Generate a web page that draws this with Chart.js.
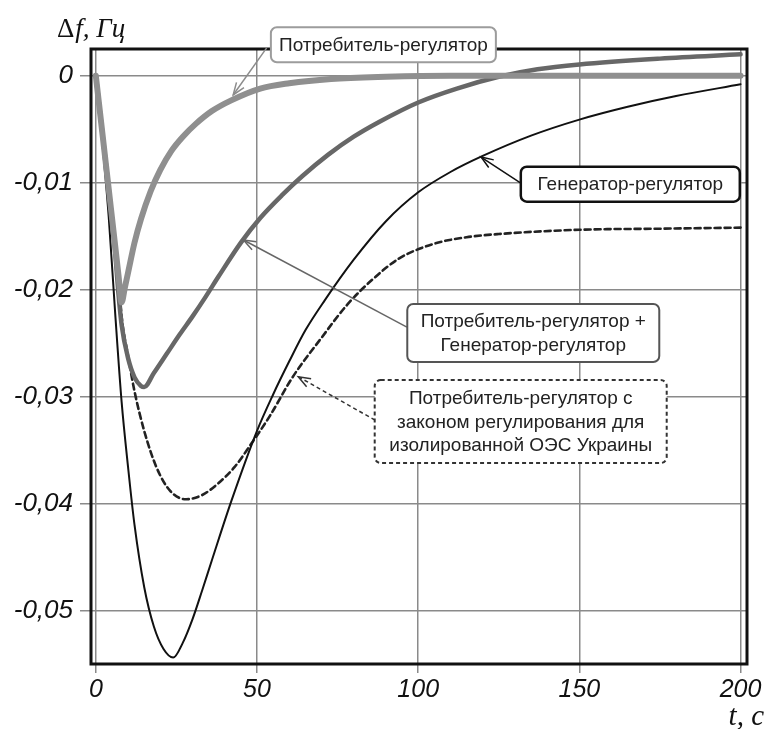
<!DOCTYPE html>
<html>
<head>
<meta charset="utf-8">
<script src="https://cdn.jsdelivr.net/npm/chart.js@4.4.1/dist/chart.umd.min.js"></script>
<style>
  html, body { margin: 0; padding: 0; background: #fff; }
  canvas { display: block; }
</style>
</head>
<body>
<canvas id="chart" width="768" height="729"></canvas>
<script>
// --- Data (t in s, Δf in Hz) ----------------------------------------------
const consumerT = [0, 2, 4, 6, 7, 8, 9, 10, 12, 14, 17, 20, 23.5, 27, 31, 36, 42, 51, 60, 73, 90, 110, 150, 200];
const consumerV = [0, -0.0053, -0.0106, -0.0159, -0.0186, -0.0212, -0.0198, -0.0184, -0.0156, -0.0134, -0.0108, -0.0088,
  -0.0070, -0.0057, -0.0045, -0.0033, -0.0023, -0.0012, -0.0007, -0.0003, -0.0001, 0, 0, 0];

const bothT = [0, 2, 4, 6, 7, 8, 10, 12, 14, 15, 18, 22, 26, 30, 34, 38, 45, 51, 58, 64, 72, 80, 88, 100, 112, 125, 137, 150, 175, 200];
const bothV = [0, -0.0053, -0.0106, -0.0165, -0.0203, -0.0233, -0.0264, -0.0282, -0.0290, -0.0291, -0.0278, -0.0260, -0.0242,
  -0.0225, -0.0207, -0.0188, -0.0156, -0.0133, -0.0111, -0.0094, -0.0074, -0.0057, -0.0043, -0.0025, -0.0012, -0.0001,
  0.0006, 0.00105, 0.0016, 0.0020];

const genT = [0, 2, 4, 6, 8, 10, 12, 15, 18, 21, 24, 27, 30, 33, 36, 42, 50, 55, 60, 65, 71, 80, 90, 100, 110, 120, 135, 150,
  165, 180, 200];
const genV = [0, -0.0062, -0.0132, -0.0222, -0.0305, -0.0366, -0.0420, -0.0478, -0.0515, -0.0536, -0.0544, -0.0530, -0.0508,
  -0.0481, -0.0453, -0.0398, -0.0332, -0.0298, -0.0267, -0.0238, -0.0210, -0.0172, -0.0136, -0.0109, -0.0090, -0.0075,
  -0.0056, -0.0041, -0.0029, -0.0019, -0.0008];

const isolatedT = [0, 2, 4, 6, 7, 8, 10, 12, 15, 18.8, 23, 28, 33, 38, 43, 48, 54, 61, 70, 78, 86, 94, 105, 115, 125, 150, 175, 200];
const isolatedV = [0, -0.0053, -0.0106, -0.0159, -0.0186, -0.0225, -0.0262, -0.0295, -0.0332, -0.0366, -0.0388, -0.0396,
  -0.0392, -0.0381, -0.0366, -0.0345, -0.0318, -0.0282, -0.0245, -0.0214, -0.0190, -0.0171, -0.0157, -0.0151, -0.0148,
  -0.0144, -0.0143, -0.0142];

const xTickValues = [0, 50, 100, 150, 200];
const xTickLabels = ["0", "50", "100", "150", "200"];
const yTickValues = [0, -0.01, -0.02, -0.03, -0.04, -0.05];
const yTickLabels = ["0", "-0,01", "-0,02", "-0,03", "-0,04", "-0,05"];

const yTitleSymbol = "Δ";
const yTitle = "f, Гц";
const xTitle = "t, c";

// callout boxes: centre / arrow ends in data units, size in px
const callouts = [
  { lines: ["Потребитель-регулятор"], at: [89.2, 0.0029], size: [225, 35], from: [53.0, 0.0026], tip: [42.6, -0.0018],
    border: "#9c9c9c", borderWidth: 2, boxDash: [], arrow: "#8c8c8c", arrowDash: [] },
  { lines: ["Генератор-регулятор"], at: [165.8, -0.01014], size: [219, 35], from: [131.6, -0.0100], tip: [119.5, -0.0076],
    border: "#111", borderWidth: 2.5, boxDash: [], arrow: "#111", arrowDash: [] },
  { lines: ["Потребитель-регулятор +", "Генератор-регулятор"], at: [135.7, -0.02405], size: [252, 58], from: [96.5, -0.0235],
    tip: [45.8, -0.01536], border: "#555", borderWidth: 2, boxDash: [], arrow: "#666", arrowDash: [] },
  { lines: ["Потребитель-регулятор с", "законом регулирования для", "изолированной ОЭС Украины"], at: [131.8, -0.03233],
    size: [292, 83], from: [86.6, -0.0322], tip: [62.8, -0.02814], border: "#333", borderWidth: 2, boxDash: [4, 3],
    arrow: "#333", arrowDash: [4, 3] },
];

const GRID = "#8a8a8a";
const SANS = '"Liberation Sans", Arial, sans-serif';
const SERIF = '"Liberation Serif", "Times New Roman", serif';

const zip = (ts, vs) => ts.map((t, i) => ({ x: t, y: vs[i] }));

function drawArrow(ctx, x0, y0, x1, y1, color, dash) {
  ctx.save();
  ctx.strokeStyle = color;
  ctx.lineWidth = 1.5;
  ctx.setLineDash(dash);
  ctx.beginPath();
  ctx.moveTo(x0, y0);
  ctx.lineTo(x1, y1);
  ctx.stroke();
  ctx.setLineDash([]);
  const a = Math.atan2(y1 - y0, x1 - x0), L = 13, s = 0.36;
  ctx.beginPath();
  ctx.moveTo(x1 - L * Math.cos(a - s), y1 - L * Math.sin(a - s));
  ctx.lineTo(x1, y1);
  ctx.lineTo(x1 - L * Math.cos(a + s), y1 - L * Math.sin(a + s));
  ctx.stroke();
  ctx.restore();
}

// frame, callouts and axis titles
const decor = {
  id: "decor",
  afterDatasetsDraw(chart) {
    const { ctx, chartArea: a } = chart;
    ctx.save();
    ctx.strokeStyle = "#111";
    ctx.lineWidth = 3;
    ctx.strokeRect(a.left, a.top, a.right - a.left, a.bottom - a.top);
    ctx.restore();
  },
  afterDraw(chart) {
    const { ctx, scales: { x, y } } = chart;
    const px = (p) => [x.getPixelForValue(p[0]), y.getPixelForValue(p[1])];

    callouts.forEach((c) => {
      const [fx, fy] = px(c.from), [tx, ty] = px(c.tip);
      drawArrow(ctx, fx, fy, tx, ty, c.arrow, c.arrowDash);
    });

    callouts.forEach((c) => {
      const [cx, cy] = px(c.at);
      const [w, h] = c.size;
      ctx.save();
      ctx.beginPath();
      ctx.roundRect(cx - w / 2, cy - h / 2, w, h, 6);
      ctx.fillStyle = "#fff";
      ctx.fill();
      ctx.setLineDash(c.boxDash);
      ctx.lineWidth = c.borderWidth;
      ctx.strokeStyle = c.border;
      ctx.stroke();
      ctx.setLineDash([]);
      ctx.fillStyle = "#222";
      ctx.font = "19px " + SANS;
      ctx.textAlign = "center";
      ctx.textBaseline = "middle";
      const lh = 23.5;
      c.lines.forEach((line, i) => {
        ctx.fillText(line, cx, cy + (i - (c.lines.length - 1) / 2) * lh + 1);
      });
      ctx.restore();
    });

    ctx.save();
    ctx.fillStyle = "#111";
    ctx.textBaseline = "alphabetic";
    ctx.textAlign = "left";
    ctx.font = "27px " + SERIF;
    ctx.fillText(yTitleSymbol, 57, 37);
    const dw = ctx.measureText(yTitleSymbol).width;
    ctx.font = "italic 27px " + SERIF;
    ctx.fillText(yTitle, 57 + dw + 1, 37);
    ctx.font = "italic 29px " + SERIF;
    ctx.textAlign = "right";
    ctx.fillText(xTitle, 764, 725);
    ctx.restore();
  },
};

new Chart(document.getElementById("chart"), {
  type: "line",
  data: {
    datasets: [
      { label: "Потребитель-регулятор", data: zip(consumerT, consumerV), borderColor: "#8f8f8f", borderWidth: 6 },
      { label: "Потребитель-регулятор + Генератор-регулятор", data: zip(bothT, bothV), borderColor: "#676767", borderWidth: 4.5 },
      { label: "Генератор-регулятор", data: zip(genT, genV), borderColor: "#111", borderWidth: 2 },
      { label: "Потребитель-регулятор с законом регулирования для изолированной ОЭС Украины",
        data: zip(isolatedT, isolatedV), borderColor: "#222", borderWidth: 2.6, borderDash: [6, 4] },
    ],
  },
  options: {
    responsive: false,
    animation: false,
    layout: { padding: { top: 49, right: 21, left: 0, bottom: 0 } },
    elements: {
      point: { radius: 0 },
      line: { cubicInterpolationMode: "monotone", borderCapStyle: "round", borderJoinStyle: "round", fill: false },
    },
    plugins: { legend: { display: false }, tooltip: { enabled: false } },
    scales: {
      x: {
        type: "linear",
        min: -1.5,
        max: 202,
        afterBuildTicks: (s) => { s.ticks = xTickValues.map((v) => ({ value: v })); },
        afterFit: (s) => { s.height = 65; s.paddingLeft = 0; s.paddingRight = 0; },
        ticks: {
          callback: (v, i) => xTickLabels[i],
          color: "#111",
          font: { family: SANS, size: 25, style: "italic" },
          padding: 2,
          maxRotation: 0,
        },
        grid: { color: GRID, lineWidth: 1.5, tickLength: 9, tickColor: GRID },
        border: { display: false },
      },
      y: {
        type: "linear",
        min: -0.055,
        max: 0.0025,
        afterBuildTicks: (s) => { s.ticks = yTickValues.map((v) => ({ value: v })); },
        afterFit: (s) => { s.width = 91; s.paddingTop = 0; s.paddingBottom = 0; },
        ticks: {
          callback: (v, i) => yTickLabels[i],
          color: "#111",
          font: { family: SANS, size: 26, style: "italic" },
          padding: 7,
        },
        grid: { color: GRID, lineWidth: 1.5, tickLength: 11, tickColor: GRID },
        border: { display: false },
      },
    },
  },
  plugins: [decor],
});
</script>
</body>
</html>
